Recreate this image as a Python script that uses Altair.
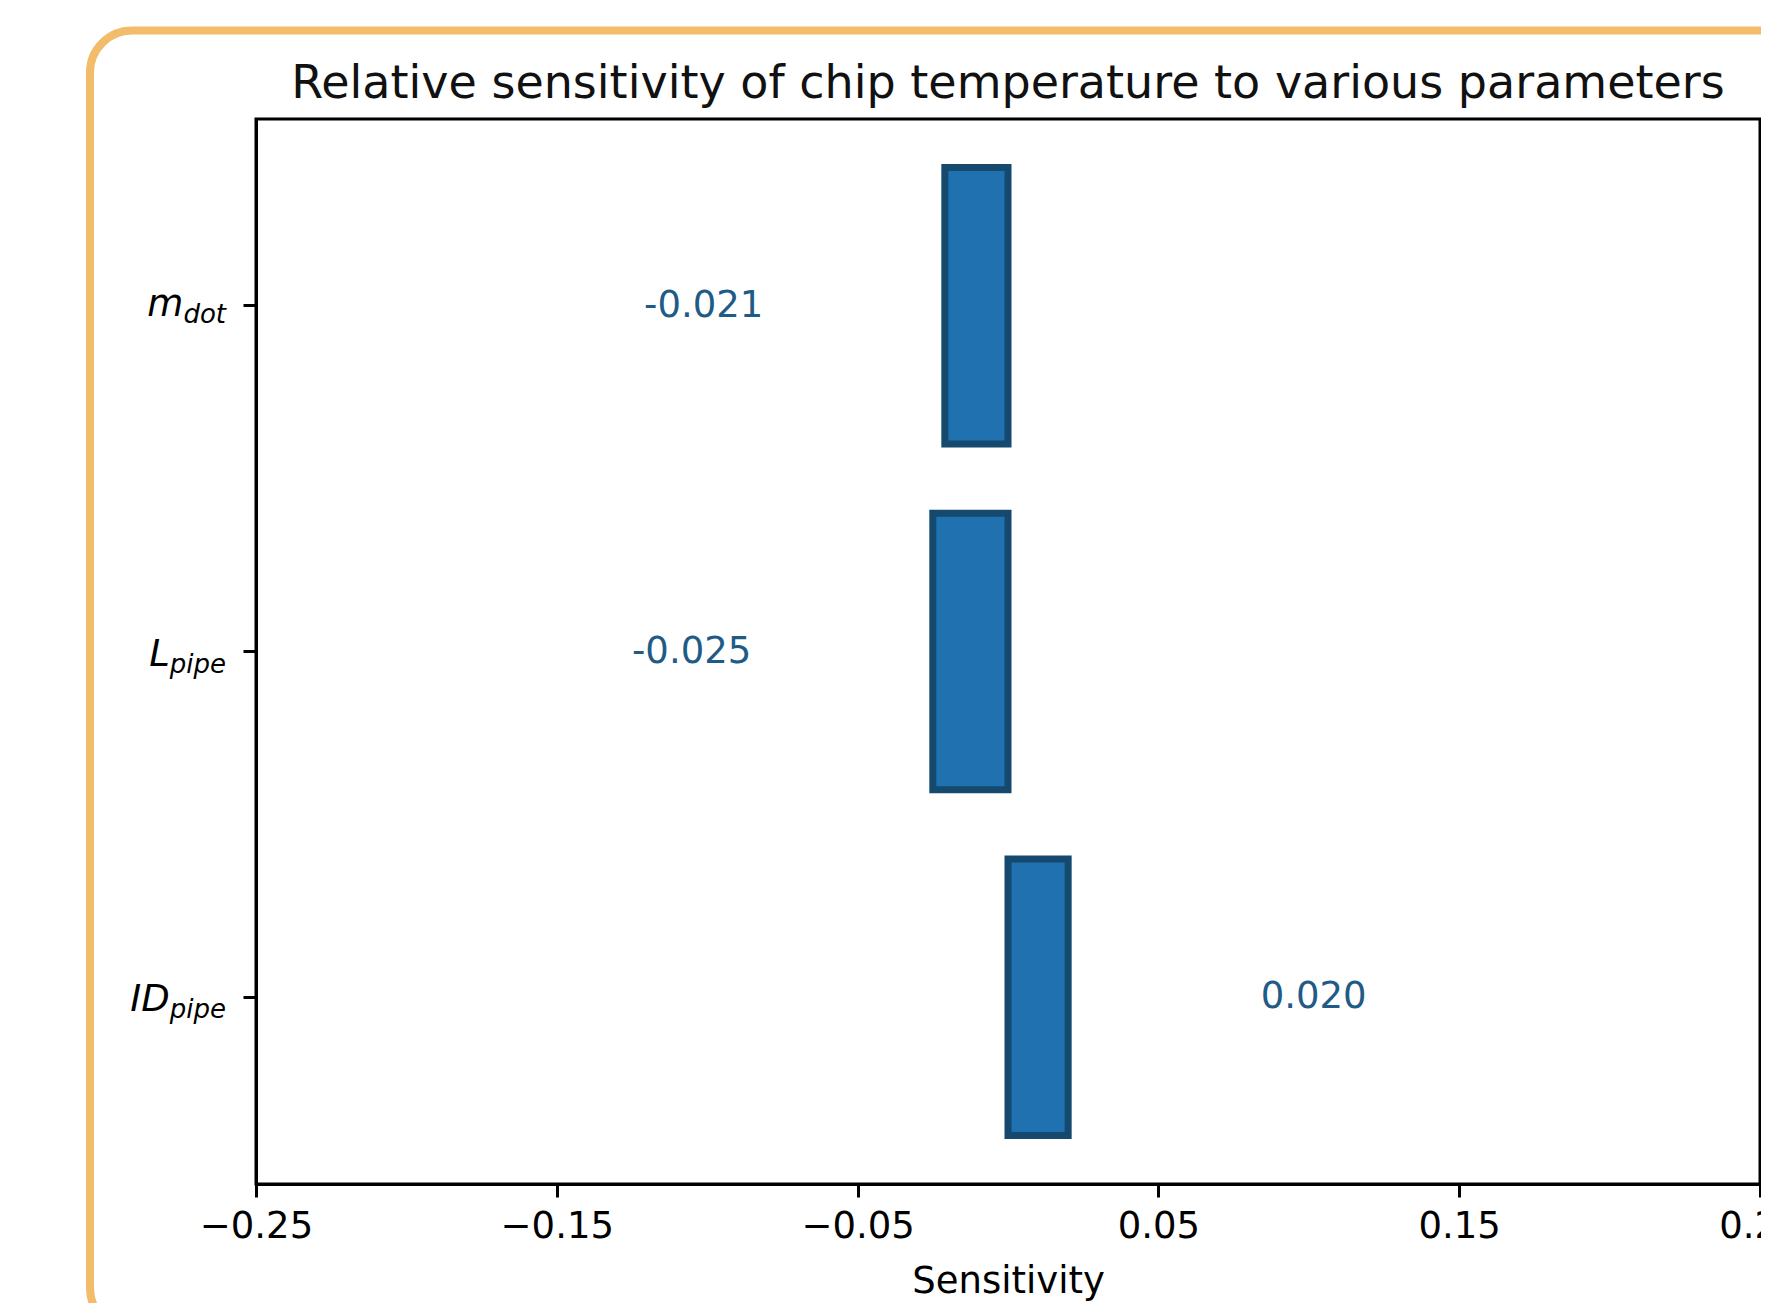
import altair as alt
import pandas as pd

# ---- data ----
params = ["m_dot", "L_pipe", "ID_pipe"]
base_text = ["m", "L", "ID"]
sub_text = ["dot", "pipe", "pipe"]
sensitivity = [-0.021, -0.025, 0.020]
value_labels = ["-0.021", "-0.025", "0.020"]
x_ticks = [-0.25, -0.15, -0.05, 0.05, 0.15, 0.25]
x_domain = [-0.25, 0.25]

df = pd.DataFrame({
    "param": params,
    "base": base_text,
    "sub": sub_text,
    "value": sensitivity,
    "label": value_labels,
})

# ---- layout / style ----
W, H = 1504, 1065
FONT = "DejaVu Sans"
TICK_FS = 37
SUB_FS = 26
BAR_FILL = "#1f71b0"
BAR_EDGE = "#15496e"
TEXT_BLUE = "#1f5b87"
ORANGE = "#F2BC6B"

# approximate DejaVu Sans advance widths (em)
CW = {"d": 0.635, "o": 0.612, "t": 0.392, "p": 0.635, "i": 0.278, "e": 0.615}
def text_w(s, fs):
    return sum(CW.get(c, 0.6) for c in s) * fs

label_dy = {"m_dot": 10, "L_pipe": 14, "ID_pipe": 14}
SUB_SHIFT = 7
LABEL_RIGHT = -30

y_scale = alt.Scale(domain=params, paddingInner=0.2, paddingOuter=0.14)
x_scale = alt.Scale(domain=x_domain, nice=False, zero=False)

x_axis = alt.Axis(values=x_ticks, title="Sensitivity",
                  labelExpr="replace(format(datum.value, '.2f'), '-', '\u2212')",
                  tickSize=13, tickWidth=3, tickColor="black",
                  domainColor="black", domainWidth=3,
                  labelPadding=11, titlePadding=19, grid=False,
                  labelFlush=False, labelOverlap=False)
y_axis = alt.Axis(labels=False, title=None, tickSize=13, tickWidth=3,
                  tickColor="black", domainColor="black", domainWidth=3,
                  grid=False)

def X(field):
    return alt.X(field, scale=x_scale, axis=x_axis, title="Sensitivity")

def Y():
    return alt.Y("param:N", scale=y_scale, sort=params, axis=y_axis, title=None)

base = alt.Chart(df)

frame = alt.Chart(pd.DataFrame({"k": [0]})).mark_rect(
    filled=False, stroke=ORANGE, strokeWidth=8, cornerRadius=42
).encode(
    x=alt.value(-166), x2=alt.value(W + 200),
    y=alt.value(-88.5), y2=alt.value(1211),
)

bars = base.mark_bar(color=BAR_FILL, stroke=BAR_EDGE, strokeWidth=7).encode(
    x=X("value:Q"),
    x2=alt.datum(0),
    y=Y(),
)

ann = base.transform_calculate(
    lx="datum.value < 0 ? datum.value - 0.1 : datum.value + 0.064"
).mark_text(
    align="left", baseline="middle", font=FONT, fontSize=TICK_FS, color=TEXT_BLUE
).encode(
    x=X("lx:Q"),
    y=Y(),
    text="label:N",
)

label_layers = []
for p, b, s in zip(params, base_text, sub_text):
    sw = text_w(s, SUB_FS)
    one = base.transform_filter(alt.datum.param == p)
    main = one.mark_text(
        align="right", baseline="alphabetic", font=FONT, fontSize=TICK_FS,
        fontStyle="italic", color="black", dy=label_dy[p]
    ).encode(
        x=alt.value(LABEL_RIGHT - sw),
        y=Y(),
        text="base:N",
    )
    subm = one.mark_text(
        align="right", baseline="alphabetic", font=FONT, fontSize=SUB_FS,
        fontStyle="italic", color="black", dy=label_dy[p] + SUB_SHIFT
    ).encode(
        x=alt.value(LABEL_RIGHT),
        y=Y(),
        text="sub:N",
    )
    label_layers += [main, subm]

chart = alt.layer(frame, bars, ann, *label_layers).properties(
    width=W, height=H,
    background="white",
    padding={"left": 248, "top": 111, "right": 1, "bottom": 119},
    autosize=alt.AutoSizeParams(type="none"),
    title=alt.Title("Relative sensitivity of chip temperature to various parameters",
                    font=FONT, fontSize=46, fontWeight="normal", color="#111111",
                    anchor="middle", offset=-117, baseline="alphabetic"),
).configure_view(
    stroke="black", strokeWidth=3
).configure_axis(
    labelFont=FONT, labelFontSize=TICK_FS, labelColor="black",
    titleFont=FONT, titleFontSize=TICK_FS, titleFontWeight="normal", titleColor="black",
)

chart.save("out.html", embed_options={"renderer": "svg", "actions": False})
